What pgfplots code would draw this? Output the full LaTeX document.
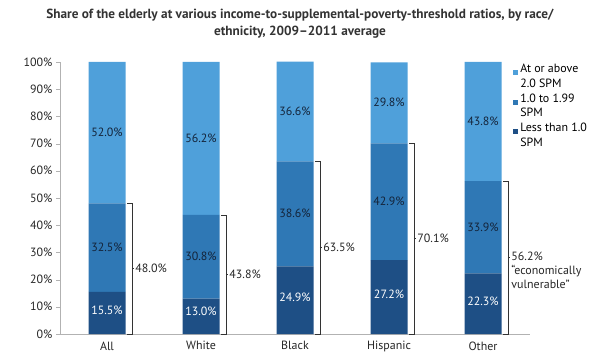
\documentclass[border=0pt]{standalone}
\usepackage{pgfplots}
\pgfplotsset{compat=1.18}
\usepackage{fontspec}
\setmainfont{PT Sans}
\definecolor{cLight}{HTML}{4FA0DA}
\definecolor{cMid}{HTML}{2F78B5}
\definecolor{cDark}{HTML}{1E4F85}
\definecolor{cTxt}{HTML}{14243A}
\tikzset{
  lw/.style={font=\fontsize{12}{14}\selectfont, text=white},
  ld/.style={font=\fontsize{12}{14}\selectfont, text=cTxt},
  br/.style={black!80, line width=0.6pt},
  bl/.style={anchor=west, inner xsep=1bp, font=\fontsize{12}{14}\selectfont, text=black!85},
}
\pgfplotsset{
  common/.style={
    at={(60bp,26bp)}, anchor=south west,
    scale only axis, width=470bp, height=272bp,
    xmin=-0.5, xmax=4.5, ymin=0, ymax=100, clip=false,
  }
}
\begin{document}
\begin{tikzpicture}[x=1bp,y=1bp]
\path[use as bounding box] (0,0) rectangle (600,360);
\node[font=\bfseries\fontsize{13.3}{17}\selectfont, align=center, text=black!80] at (300,336) {Share of the elderly at various income-to-supplemental-poverty-threshold ratios, by race/\\ethnicity, 2009--2011 average};
\begin{axis}[
  common,
  ybar stacked, bar width=37bp,
  xtick={0,1,2,3,4}, xticklabels={All,White,Black,Hispanic,Other},
  extra x ticks={0.5,1.5,2.5,3.5}, extra x tick labels={},
  extra x tick style={major tick length=3bp, tick style={gray!60}},
  major x tick style={draw=none},
  ytick={0,10,...,100},
  yticklabel={\pgfmathprintnumber{\tick}\%},
  /pgf/number format/assume math mode=true,
  tick label style={font=\fontsize{12}{14}\selectfont, text=black!85},
  axis x line*=bottom, axis y line*=left,
  axis line style={gray!60},
  x axis line style={-, gray!60},
  y axis line style={-, gray!60},
  ytick style={gray!60}, tick align=outside, major tick length=4bp,
  legend style={at={(0.964,1.0)}, anchor=north west, draw=none, fill=none,
    font=\fontsize{12}{14.5}\selectfont, legend cell align=left,
    cells={align=left}, row sep=1bp, inner xsep=0bp, inner ysep=0bp},
  legend image code/.code={\fill[#1] (0bp,1bp) rectangle (5bp,6bp);},
  reverse legend,
]
\addplot[fill=cDark, draw=none] coordinates {(0,15.5) (1,13.0) (2,24.9) (3,27.2) (4,22.3)};
\addplot[fill=cMid, draw=none] coordinates {(0,32.5) (1,30.8) (2,38.6) (3,42.9) (4,33.9)};
\addplot[fill=cLight, draw=none] coordinates {(0,52.0) (1,56.2) (2,36.6) (3,29.8) (4,43.8)};
\legend{{Less than 1.0\\SPM},{1.0 to 1.99\\SPM},{At or above\\2.0 SPM}}
\end{axis}
\begin{axis}[common, hide axis]
% segment labels
\node[lw] at (axis cs:0,8.75) {15.5\%};
\node[ld] at (axis cs:0,31.75) {32.5\%};
\node[ld] at (axis cs:0,74.0) {52.0\%};
\node[lw] at (axis cs:1,8.5) {13.0\%};
\node[ld] at (axis cs:1,28.4) {30.8\%};
\node[ld] at (axis cs:1,71.9) {56.2\%};
\node[lw] at (axis cs:2,13.45) {24.9\%};
\node[ld] at (axis cs:2,44.2) {38.6\%};
\node[ld] at (axis cs:2,81.8) {36.6\%};
\node[lw] at (axis cs:3,14.6) {27.2\%};
\node[ld] at (axis cs:3,48.65) {42.9\%};
\node[ld] at (axis cs:3,85.0) {29.8\%};
\node[lw] at (axis cs:4,12.15) {22.3\%};
\node[ld] at (axis cs:4,39.25) {33.9\%};
\node[ld] at (axis cs:4,78.1) {43.8\%};
% brackets
\draw[br] (axis cs:0.215,48.0) -- (axis cs:0.265,48.0) -- (axis cs:0.265,0) -- (axis cs:0.215,0);
\draw[br] (axis cs:0.265,24.0) -- (axis cs:0.29,24.0);
\node[bl] at (axis cs:0.29,24.0) {48.0\%};
\draw[br] (axis cs:1.215,43.8) -- (axis cs:1.265,43.8) -- (axis cs:1.265,0) -- (axis cs:1.215,0);
\draw[br] (axis cs:1.265,21.9) -- (axis cs:1.29,21.9);
\node[bl] at (axis cs:1.29,21.9) {43.8\%};
\draw[br] (axis cs:2.215,63.5) -- (axis cs:2.265,63.5) -- (axis cs:2.265,0) -- (axis cs:2.215,0);
\draw[br] (axis cs:2.265,31.75) -- (axis cs:2.29,31.75);
\node[bl] at (axis cs:2.29,31.75) {63.5\%};
\draw[br] (axis cs:3.215,70.1) -- (axis cs:3.265,70.1) -- (axis cs:3.265,0) -- (axis cs:3.215,0);
\draw[br] (axis cs:3.265,35.05) -- (axis cs:3.29,35.05);
\node[bl] at (axis cs:3.29,35.05) {70.1\%};
\draw[br] (axis cs:4.215,56.2) -- (axis cs:4.265,56.2) -- (axis cs:4.265,0) -- (axis cs:4.215,0);
\draw[br] (axis cs:4.265,28.1) -- (axis cs:4.29,28.1);
\node[bl, anchor=north west, align=left, font=\fontsize{12}{14.5}\selectfont] at (axis cs:4.29,31.6) {56.2\%\\``economically\\vulnerable''};
\end{axis}
\end{tikzpicture}
\end{document}
